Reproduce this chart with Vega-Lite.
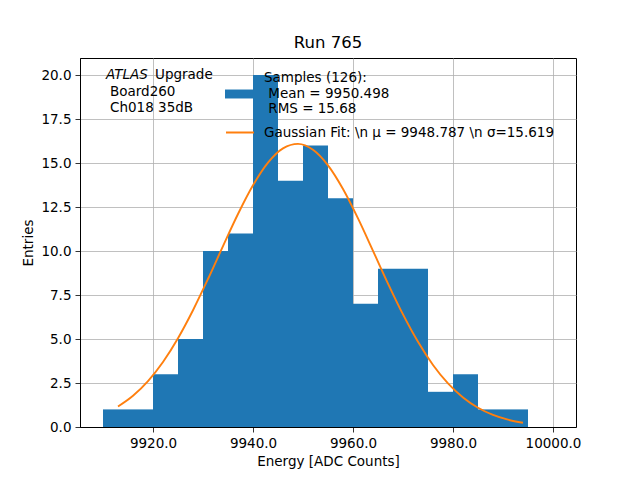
{
  "$schema": "https://vega.github.io/schema/vega-lite/v6.json",
  "autosize": "none",
  "padding": {"left": 80, "top": 58, "right": 64, "bottom": 53},
  "width": 496,
  "height": 369,
  "background": "white",
  "title": {"text": "Run 765", "fontSize": 16.5, "fontWeight": "normal", "font": "DejaVu Sans", "color": "black", "offset": 7},
  "datasets": {
    "bins": [
      {"lo": 9910, "hi": 9915, "count": 1},
      {"lo": 9915, "hi": 9920, "count": 1},
      {"lo": 9920, "hi": 9925, "count": 3},
      {"lo": 9925, "hi": 9930, "count": 5},
      {"lo": 9930, "hi": 9935, "count": 10},
      {"lo": 9935, "hi": 9940, "count": 11},
      {"lo": 9940, "hi": 9945, "count": 20},
      {"lo": 9945, "hi": 9950, "count": 14},
      {"lo": 9950, "hi": 9955, "count": 16},
      {"lo": 9955, "hi": 9960, "count": 13},
      {"lo": 9960, "hi": 9965, "count": 7},
      {"lo": 9965, "hi": 9970, "count": 9},
      {"lo": 9970, "hi": 9975, "count": 9},
      {"lo": 9975, "hi": 9980, "count": 2},
      {"lo": 9980, "hi": 9985, "count": 3},
      {"lo": 9985, "hi": 9990, "count": 1},
      {"lo": 9990, "hi": 9995, "count": 1}
    ],
    "fit": [
      {"energy": 9913, "entries": 1.166},
      {"energy": 9916, "entries": 1.777},
      {"energy": 9919, "entries": 2.611},
      {"energy": 9922, "entries": 3.697},
      {"energy": 9925, "entries": 5.046},
      {"energy": 9928, "entries": 6.637},
      {"energy": 9931, "entries": 8.412},
      {"energy": 9934, "entries": 10.278},
      {"energy": 9937, "entries": 12.103},
      {"energy": 9940, "entries": 13.735},
      {"energy": 9943, "entries": 15.023},
      {"energy": 9946, "entries": 15.836},
      {"energy": 9949, "entries": 16.088},
      {"energy": 9952, "entries": 15.753},
      {"energy": 9955, "entries": 14.866},
      {"energy": 9958, "entries": 13.521},
      {"energy": 9961, "entries": 11.852},
      {"energy": 9964, "entries": 10.012},
      {"energy": 9967, "entries": 8.152},
      {"energy": 9970, "entries": 6.397},
      {"energy": 9973, "entries": 4.839},
      {"energy": 9976, "entries": 3.527},
      {"energy": 9979, "entries": 2.478},
      {"energy": 9982, "entries": 1.678},
      {"energy": 9985, "entries": 1.095},
      {"energy": 9988, "entries": 0.688},
      {"energy": 9991, "entries": 0.417},
      {"energy": 9994, "entries": 0.244}
    ]
  },
  "layer": [
    {
      "data": {"name": "bins"},
      "mark": {"type": "bar", "strokeWidth": 0, "orient": "vertical"},
      "encoding": {
        "x": {
          "field": "lo", "type": "quantitative",
          "scale": {"domain": [9905.4, 10004.6], "nice": false, "zero": false, "padding": 0},
          "axis": {"values": [9920, 9940, 9960, 9980, 10000], "format": ".1f", "title": "Energy [ADC Counts]"}
        },
        "x2": {"field": "hi"},
        "y": {
          "field": "count", "type": "quantitative",
          "scale": {"domain": [0, 20.97], "nice": false, "padding": 0},
          "axis": {"values": [0, 2.5, 5, 7.5, 10, 12.5, 15, 17.5, 20], "format": ".1f", "title": "Entries"}
        },
        "y2": {"datum": 0},
        "fill": {
          "datum": "Samples",
          "scale": {"range": ["#1f77b4"]},
          "legend": {
            "orient": "none", "legendX": 145, "legendY": 22,
            "title": null,
            "symbolType": "M-1,-0.32L1,-0.32L1,0.32L-1,0.32Z",
            "symbolSize": 784,
            "symbolStrokeWidth": 0,
            "labelExpr": "['Samples (126):', '\u200b\u00a0Mean = 9950.498', '\u200b\u00a0RMS = 15.68']",
            "encode": {"labels": {"update": {"dy": {"value": -16}}}}
          }
        }
      }
    },
    {
      "data": {"name": "fit"},
      "mark": {"type": "line", "strokeWidth": 1.9, "interpolate": "monotone"},
      "encoding": {
        "x": {"field": "energy", "type": "quantitative"},
        "y": {"field": "entries", "type": "quantitative"},
        "stroke": {
          "datum": "Gaussian Fit: \\n μ = 9948.787 \\n σ=15.619",
          "scale": {"range": ["#ff7f0e"]},
          "legend": {
            "orient": "none", "legendX": 145, "legendY": 59.5,
            "title": null,
            "symbolSize": 784,
            "symbolStrokeWidth": 2,
            "labelOffset": 9
          }
        }
      }
    },
    {
      "data": {"values": [{}]},
      "mark": {"type": "text", "align": "left", "baseline": "middle", "fontStyle": "italic", "fontSize": 13.5, "font": "DejaVu Sans", "color": "black"},
      "encoding": {
        "x": {"datum": 9910.6, "type": "quantitative"},
        "y": {"datum": 20.0, "type": "quantitative"},
        "text": {"value": "ATLAS"}
      }
    },
    {
      "data": {"values": [{}]},
      "mark": {"type": "text", "align": "left", "baseline": "middle", "fontSize": 13.5, "font": "DejaVu Sans", "color": "black", "dx": 49},
      "encoding": {
        "x": {"datum": 9910.6, "type": "quantitative"},
        "y": {"datum": 20.0, "type": "quantitative"},
        "text": {"value": "Upgrade"}
      }
    },
    {
      "data": {"values": [{}]},
      "mark": {"type": "text", "align": "left", "baseline": "middle", "fontSize": 13.5, "font": "DejaVu Sans", "color": "black", "dx": 4},
      "encoding": {
        "x": {"datum": 9910.6, "type": "quantitative"},
        "y": {"datum": 19.03, "type": "quantitative"},
        "text": {"value": "Board260"}
      }
    },
    {
      "data": {"values": [{}]},
      "mark": {"type": "text", "align": "left", "baseline": "middle", "fontSize": 13.5, "font": "DejaVu Sans", "color": "black", "dx": 4},
      "encoding": {
        "x": {"datum": 9910.6, "type": "quantitative"},
        "y": {"datum": 18.13, "type": "quantitative"},
        "text": {"value": "Ch018 35dB"}
      }
    }
  ],
  "resolve": {"legend": {"fill": "independent", "stroke": "independent"}},
  "config": {
    "font": "DejaVu Sans",
    "view": {"stroke": "black", "strokeWidth": 1},
    "axis": {
      "zindex": 1,
      "grid": true,
      "gridColor": "#b0b0b0",
      "gridWidth": 0.8,
      "domainColor": "black",
      "domainWidth": 1,
      "tickColor": "black",
      "tickSize": 5,
      "tickWidth": 0.8,
      "labelColor": "black",
      "labelFont": "DejaVu Sans",
      "labelFontSize": 13.5,
      "labelPadding": 4,
      "titleFont": "DejaVu Sans",
      "titleFontSize": 13.5,
      "titleFontWeight": "normal",
      "titleColor": "black",
      "titlePadding": 5
    },
    "legend": {
      "padding": 0,
      "labelFont": "DejaVu Sans",
      "labelFontSize": 13.5,
      "labelColor": "black",
      "labelOffset": 11,
      "labelLimit": 400
    }
  }
}
